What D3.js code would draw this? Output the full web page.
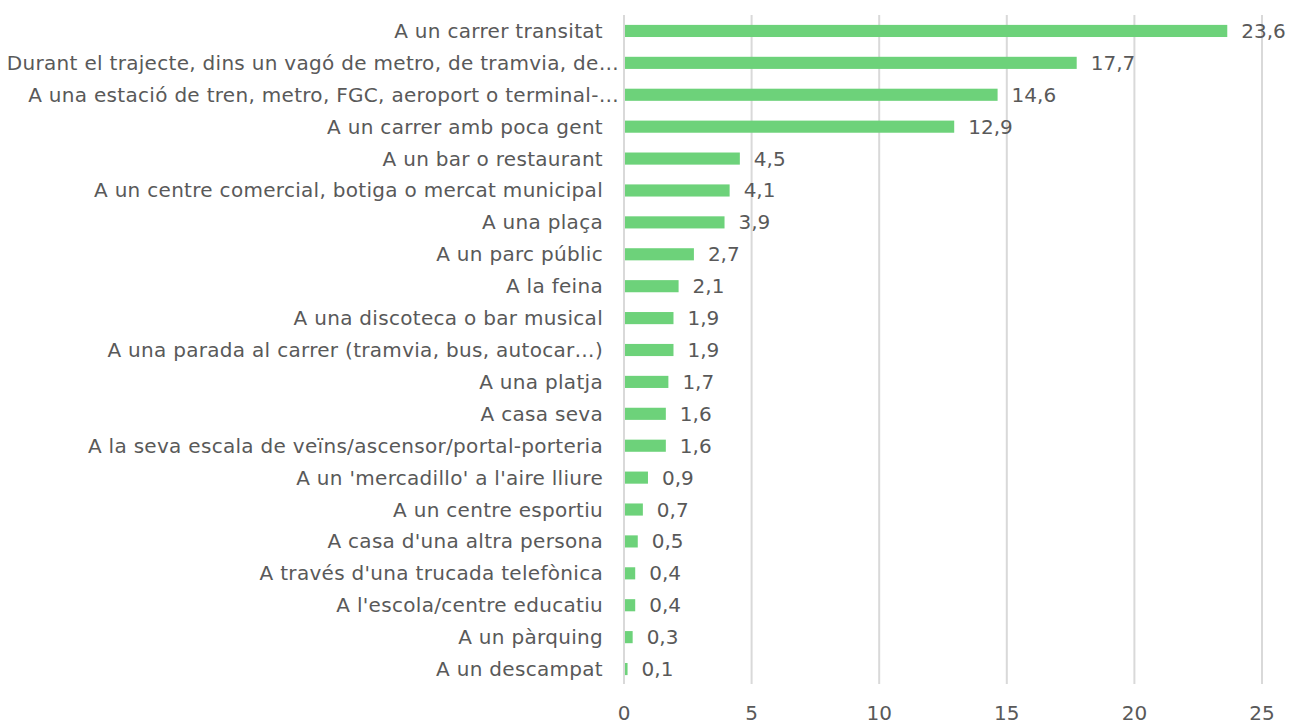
<!DOCTYPE html>
<html>
<head>
<meta charset="utf-8">
<script src="https://cdn.jsdelivr.net/npm/d3@7"></script>
<style>
  body { margin: 0; background: #fff; }
  text { font-family: "DejaVu Sans", "Noto Sans", sans-serif; fill: #595959; font-size: 20px; }
</style>
</head>
<body>
<div id="chart"></div>
<script>
var categories = [
	"A un carrer transitat",
	"Durant el trajecte, dins un vagó de metro, de tramvia, de…",
	"A una estació de tren, metro, FGC, aeroport o terminal-…",
	"A un carrer amb poca gent",
	"A un bar o restaurant",
	"A un centre comercial, botiga o mercat municipal",
	"A una plaça",
	"A un parc públic",
	"A la feina",
	"A una discoteca o bar musical",
	"A una parada al carrer (tramvia, bus, autocar…)",
	"A una platja",
	"A casa seva",
	"A la seva escala de veïns/ascensor/portal-porteria",
	"A un 'mercadillo' a l'aire lliure",
	"A un centre esportiu",
	"A casa d'una altra persona",
	"A través d'una trucada telefònica",
	"A l'escola/centre educatiu",
	"A un pàrquing",
	"A un descampat"
]
var values = [23.6, 17.7, 14.6, 12.9, 4.5, 4.1, 3.9, 2.7, 2.1, 1.9, 1.9, 1.7, 1.6, 1.6, 0.9, 0.7, 0.5, 0.4, 0.4, 0.3, 0.1]
var ticks = [0, 5, 10, 15, 20, 25]

var data = categories.map((c, i) => ({ name: c, value: values[i] }))

var width = 1291, height = 724

var svg = d3.select("#chart").append("svg")
	.attr("width", width)
	.attr("height", height)

var x = d3.scaleLinear()
	.domain([0, 25])
	.range([624, 1262])

var y = d3.scaleBand()
	.domain(categories)
	.range([15, 685])
	.paddingInner(0.62)
	.paddingOuter(0.31)

// vertical gridlines
svg.append("g")
	.selectAll("line")
	.data(ticks)
	.enter()
	.append("line")
	.attr("x1", d => x(d))
	.attr("x2", d => x(d))
	.attr("y1", 15)
	.attr("y2", 684)
	.attr("stroke", "#d9d9d9")
	.attr("stroke-width", 2)

// tick labels
svg.append("g")
	.selectAll("text")
	.data(ticks)
	.enter()
	.append("text")
	.attr("x", d => x(d))
	.attr("y", 713)
	.attr("dy", "0.35em")
	.attr("text-anchor", "middle")
	.text(d => d)

// bars
svg.append("g")
	.selectAll("rect")
	.data(data)
	.enter()
	.append("rect")
	.attr("x", x(0) + 1)
	.attr("y", d => y(d.name))
	.attr("width", d => Math.max(x(d.value) - x(0), 1))
	.attr("height", y.bandwidth())
	.attr("fill", "#6dd27a")

// category labels
svg.append("g")
	.selectAll("text")
	.data(data)
	.enter()
	.append("text")
	.attr("x", d => d.name.endsWith("…") ? 619 : 603)
	.attr("y", d => y(d.name) + y.bandwidth() / 2)
	.attr("dy", "0.35em")
	.attr("text-anchor", "end")
	.style("letter-spacing", "0.3px")
	.text(d => d.name)

// value labels
svg.append("g")
	.selectAll("text")
	.data(data)
	.enter()
	.append("text")
	.attr("x", d => x(d.value) + 15)
	.attr("y", d => y(d.name) + y.bandwidth() / 2)
	.attr("dy", "0.35em")
	.text(d => d3.format(".1f")(d.value).replace(".", ","))
</script>
</body>
</html>
